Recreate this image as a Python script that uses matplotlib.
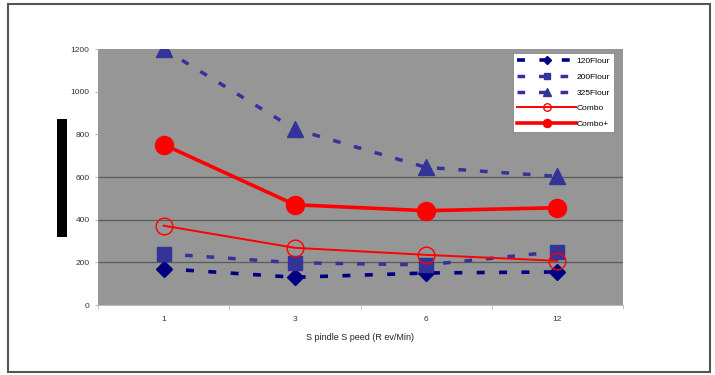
import matplotlib.pyplot as plt
import matplotlib.patches as mpatches
import numpy as np

# Datos
categorias = ["1", "3", "6", "12"]
flour_120 = [170, 130, 150, 155]
flour_200 = [240, 198, 188, 250]
flour_325 = [1200, 824, 645, 603]
combo = [372, 268, 235, 207]
combo_plus = [752, 470, 442, 456]
yticks = [0, 200, 400, 600, 800, 1000, 1200]
gridlines = [200, 400, 600]

NAVY = "#000080"
BLUE = "#333399"
RED = "#ff0000"
PLOT_BG = "#969696"
W, H = 715, 375

plt.rcParams["font.family"] = ["Liberation Sans", "DejaVu Sans"]

fig = plt.figure(figsize=(W / 100, H / 100), dpi=100)
fig.patch.set_facecolor("white")

# Marco exterior
fig.patches.append(mpatches.Rectangle(
    (8 / W, 1 - 372 / H), 702 / W, 368 / H, transform=fig.transFigure,
    fill=False, edgecolor="#555555", linewidth=1.5))
# Barra negra a la izquierda (etiqueta del eje tapada)
fig.patches.append(mpatches.Rectangle(
    (57 / W, 1 - 237 / H), 10 / W, 118 / H, transform=fig.transFigure,
    facecolor="black", edgecolor="none"))

ax = fig.add_axes([98 / W, 1 - 305 / H, 525 / W, 256 / H])
ax.set_facecolor(PLOT_BG)
x = np.arange(len(categorias))

for g in gridlines:
    ax.axhline(g, color="#5a5a5a", linewidth=0.9, zorder=1)

dash = (0, (2.2, 4.0))
ax.plot(x, flour_120, color=NAVY, linestyle=dash, linewidth=2.6,
        marker="D", markersize=8, label="120Flour", zorder=3)
ax.plot(x, flour_200, color=BLUE, linestyle=dash, linewidth=2.5,
        marker="s", markersize=10, label="200Flour", zorder=3)
ax.plot(x, flour_325, color=BLUE, linestyle=dash, linewidth=2.5,
        marker="^", markersize=11.5, label="325Flour", zorder=3)
ax.plot(x, combo, color=RED, linewidth=1.4, marker="o", markersize=12,
        markerfacecolor="none", markeredgewidth=1.0, label="Combo", zorder=4)
ax.plot(x, combo_plus, color=RED, linewidth=2.6, marker="o", markersize=13,
        label="Combo+", zorder=4)

ax.set_xlim(-0.5, len(categorias) - 0.5)
ax.set_ylim(0, 1200)
ax.set_yticks(yticks)
ax.set_yticklabels([str(v) for v in yticks], fontsize=6, color="#333333")
ax.set_xticks(x)
ax.set_xticklabels(categorias, fontsize=6, color="#333333")
ax.set_xticks(np.arange(-0.5, len(categorias) + 0.5, 1), minor=True)
ax.tick_params(axis="x", which="major", length=0, pad=8)
ax.tick_params(axis="x", which="minor", length=3, color="#bbbbbb")
ax.tick_params(axis="y", length=2, color="#bbbbbb", pad=4)
for s in ["top", "right", "left"]:
    ax.spines[s].set_visible(False)
ax.spines["bottom"].set_color("#bbbbbb")

ax.set_xlabel("S pindle S peed (R ev/Min)", fontsize=6.5, color="#222222",
              labelpad=7)

leg = ax.legend(loc="upper right", fontsize=6, frameon=True, fancybox=False,
                edgecolor="#888888", framealpha=1, handlelength=7,
                markerscale=0.45, borderpad=0.5, labelspacing=0.95,
                handletextpad=0.1, borderaxespad=0,
                bbox_to_anchor=(0.983, 0.984))
leg.get_frame().set_linewidth(0.6)

fig.savefig("out.png", dpi=100, facecolor="white")
